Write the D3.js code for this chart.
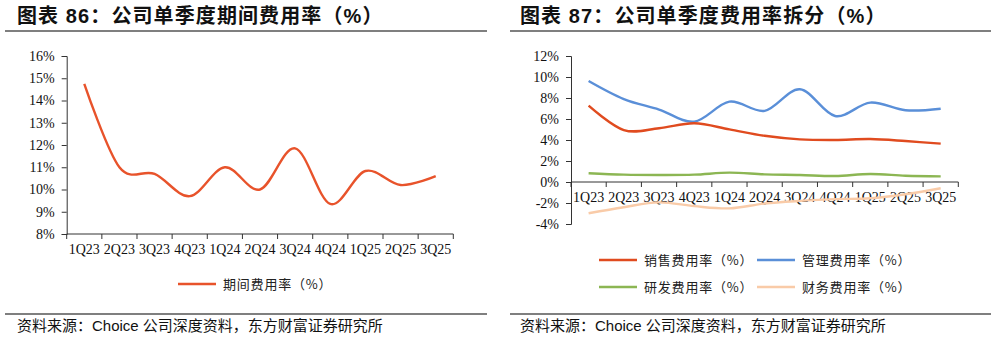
<!DOCTYPE html>
<html><head><meta charset="utf-8">
<script src="https://cdn.jsdelivr.net/npm/d3@7"></script>
<style>
html,body{margin:0;padding:0;background:#fff;}
svg{display:block;}
</style></head>
<body>
<script>
// ---- data ----
const quarters = ["1Q23","2Q23","3Q23","4Q23","1Q24","2Q24","3Q24","4Q24","1Q25","2Q25","3Q25"];
const periodRate = [14.75,11.0,10.7,9.7,11.0,10.0,11.85,9.35,10.83,10.2,10.6];
const sellingRate = [7.27,4.95,5.12,5.59,5.01,4.4,4.06,4.0,4.09,3.9,3.65];
const adminRate = [9.62,7.9,6.9,5.75,7.65,6.78,8.83,6.29,7.56,6.83,6.98];
const rdRate = [0.83,0.7,0.67,0.7,0.89,0.73,0.67,0.57,0.76,0.6,0.54];
const finRate = [-2.98,-2.4,-1.94,-2.3,-2.51,-2.05,-1.8,-1.63,-1.55,-1.17,-0.6];
const leftTicks = [8,9,10,11,12,13,14,15,16];
const rightTicks = [-4,-2,0,2,4,6,8,10,12];
const title1 = "图表 86：公司单季度期间费用率（%）";
const title2 = "图表 87：公司单季度费用率拆分（%）";
const source = "资料来源：Choice 公司深度资料，东方财富证券研究所";
const legend1 = ["期间费用率（%）"];
const legend2 = ["销售费用率（%）","管理费用率（%）","研发费用率（%）","财务费用率（%）"];

const W = 997, H = 338;
const svg = d3.select("body").append("svg").attr("width", W).attr("height", H);
const serif = "\"Liberation Serif\"";
const sans = "\"Liberation Sans\", \"Noto Sans CJK SC\"";
const cjk = "\"Noto Sans CJK SC\"";
const axisColor = "#333";

function header(x0, x1, tx, title) {
  svg.append("text").attr("x", tx).attr("y", 23).style("font-family", sans)
    .attr("font-size", 20).attr("font-weight", "bold").attr("fill", "#111")
    .attr("letter-spacing", 1.1).text(title);
  svg.append("line").attr("x1", x0).attr("x2", x1).attr("y1", 31).attr("y2", 31)
    .attr("stroke", "#555").attr("stroke-width", 1.3);
  svg.append("line").attr("x1", x0).attr("x2", x1).attr("y1", 314).attr("y2", 314)
    .attr("stroke", "#555").attr("stroke-width", 1.3);
  svg.append("text").attr("x", tx).attr("y", 331).style("font-family", sans)
    .attr("font-size", 15).attr("fill", "#111").text(source);
}

function chart(cfg) {
  const g = svg.append("g");
  const x = d3.scaleBand().domain(quarters).range([cfg.x0, cfg.x1]);
  const y = d3.scaleLinear().domain(cfg.domain).range([cfg.yb, cfg.yt]);
  const ax = y(cfg.axisAt);
  // y axis
  const ya = g.append("g").attr("transform", `translate(${cfg.x0},0)`)
    .call(d3.axisLeft(y).tickValues(cfg.ticks).tickSize(5).tickPadding(7).tickFormat(d => d + "%"));
  ya.attr("font-family", null).attr("font-size", null);
  ya.select(".domain").attr("stroke", axisColor);
  ya.selectAll(".tick line").attr("stroke", axisColor);
  ya.selectAll(".tick text").style("font-family", serif).style("font-size", "14px").attr("fill", "#111");
  // x axis: labels at band centres, ticks at band edges
  const xa = g.append("g").attr("transform", `translate(0,${ax})`)
    .call(d3.axisBottom(x).tickSize(0).tickPadding(10));
  xa.attr("font-family", null).attr("font-size", null);
  xa.select(".domain").remove();
  xa.selectAll(".tick text").style("font-family", serif).style("font-size", "14px").attr("fill", "#111");
  g.append("line").attr("x1", cfg.x0).attr("x2", cfg.x1).attr("y1", ax).attr("y2", ax)
    .attr("stroke", axisColor).attr("stroke-width", 1);
  const edges = quarters.map(q => x(q)).concat([x.range()[1]]);
  g.selectAll(".xt").data(edges).enter().append("line")
    .attr("x1", d => d).attr("x2", d => d).attr("y1", ax).attr("y2", ax + 5)
    .attr("stroke", axisColor);
  // lines
  const line = d3.line().x((d, i) => x(quarters[i]) + x.bandwidth() / 2).y(d => y(d))
    .curve(d3.curveCardinal.tension(0));
  cfg.series.forEach(s => {
    g.append("path").attr("d", line(s.values)).attr("fill", "none")
      .attr("stroke", s.color).attr("stroke-width", 2.4);
  });
  // legend
  cfg.legend.forEach(l => {
    g.append("line").attr("x1", l.x).attr("x2", l.x + 38).attr("y1", l.y).attr("y2", l.y)
      .attr("stroke", l.color).attr("stroke-width", 2.4);
    g.append("text").attr("x", l.x + 45).attr("y", l.y + 4.5).style("font-family", cjk)
      .attr("font-size", 13).attr("letter-spacing", 0.8).attr("fill", "#222").text(l.label);
  });
}

header(5, 487, 17, title1);
header(510, 991, 520, title2);

chart({
  x0: 66.7, x1: 453.3, yt: 56, yb: 234, domain: [8, 16], ticks: leftTicks, axisAt: 8,
  series: [{values: periodRate, color: "#E8532B"}],
  legend: [{x: 178, y: 284, color: "#E8532B", label: legend1[0]}]
});

chart({
  x0: 571, x1: 958.3, yt: 56, yb: 224, domain: [-4, 12], ticks: rightTicks, axisAt: 0,
  series: [
    {values: finRate, color: "#F9CBA8"},
    {values: rdRate, color: "#8CB653"},
    {values: adminRate, color: "#5A8FD8"},
    {values: sellingRate, color: "#E04B1F"}
  ],
  legend: [
    {x: 599, y: 260, color: "#E04B1F", label: legend2[0]},
    {x: 757, y: 260, color: "#5A8FD8", label: legend2[1]},
    {x: 599, y: 287, color: "#8CB653", label: legend2[2]},
    {x: 757, y: 287, color: "#F9CBA8", label: legend2[3]}
  ]
});
</script>
</body></html>
